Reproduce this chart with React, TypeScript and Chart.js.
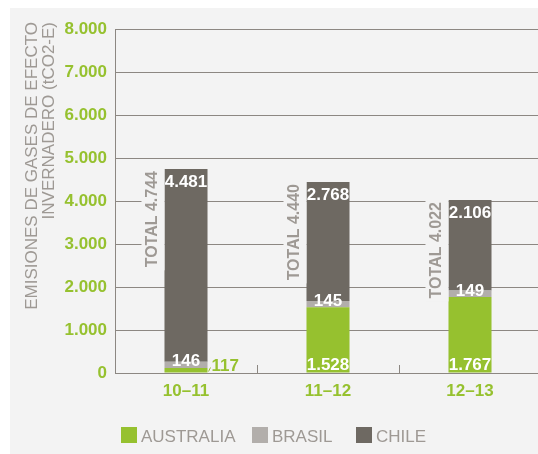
import React, { useEffect, useRef } from 'react';
import { Chart, registerables } from 'chart.js';

Chart.register(...registerables);

const categories = ['10–11', '11–12', '12–13'];
const seriesNames = ['AUSTRALIA', 'BRASIL', 'CHILE'];
const australia = [117, 1528, 1767];
const brasil = [146, 145, 149];
const chile = [4481, 2768, 2106];
const totals = [4744, 4440, 4022];
const yMax = 8000;
const yStep = 1000;
const axisTitle = ['EMISIONES DE GASES DE EFECTO', 'INVERNADERO (tCO2-E)'];

const FONT = '"Liberation Sans", Arial, Helvetica, sans-serif';
const PANEL = '#f3f3f3';
const GREEN = '#96c12f';
const BRASIL_C = '#b2aeab';
const CHILE_C = '#6e6962';
const GRID = '#8c8782';
const GRAYTEXT = '#9e9994';
const seriesColors = [GREEN, BRASIL_C, CHILE_C];

const fmt = (v: number) => String(Math.round(v)).replace(/\B(?=(\d{3})+(?!\d))/g, '.');

const customPlugin = {
  id: 'customDecor',
  afterDatasetsDraw(chart: any) {
    const ctx = chart.ctx as CanvasRenderingContext2D;
    const area = chart.chartArea;
    const xs = chart.scales.x;
    const mA = chart.getDatasetMeta(0);
    const mB = chart.getDatasetMeta(1);
    const mC = chart.getDatasetMeta(2);
    ctx.save();
    ctx.strokeStyle = GRID;
    ctx.lineWidth = 1;
    for (let i = 1; i < categories.length; i++) {
      const bx = Math.round((xs.getPixelForValue(i - 1) + xs.getPixelForValue(i)) / 2) + 0.5;
      ctx.beginPath();
      ctx.moveTo(bx, area.bottom);
      ctx.lineTo(bx, area.bottom - 8);
      ctx.stroke();
    }
    categories.forEach((_, i) => {
      const a: any = mA.data[i];
      const b: any = mB.data[i];
      const c: any = mC.data[i];
      const half = a.width / 2;
      const left = a.x - half;
      const right = a.x + half;
      ctx.font = `bold 17px ${FONT}`;
      ctx.textAlign = 'center';
      ctx.textBaseline = 'alphabetic';
      ctx.fillStyle = '#ffffff';
      ctx.fillText(fmt(chile[i]), c.x, c.y + 18);
      ctx.fillText(fmt(brasil[i]), b.x, b.base - 1.5);
      if (australia[i] > 500) {
        ctx.fillText(fmt(australia[i]), a.x, a.base - 3);
      } else {
        ctx.fillStyle = GREEN;
        ctx.textAlign = 'left';
        ctx.fillText(fmt(australia[i]), right + 4, a.base - 1.5);
        ctx.strokeStyle = GREEN;
        ctx.beginPath();
        ctx.moveTo(right + 1, a.base - 1);
        ctx.lineTo(right + 3, a.base - 5);
        ctx.stroke();
      }
      const label = 'TOTAL ' + fmt(totals[i]);
      ctx.font = `bold 16px ${FONT}`;
      const w = ctx.measureText(label).width;
      const tx = left - 13;
      const ty = c.y + 2;
      ctx.fillStyle = PANEL;
      ctx.fillRect(tx - 10, ty - 2, left - (tx - 10), w + 5);
      ctx.save();
      ctx.translate(tx, ty);
      ctx.rotate(-Math.PI / 2);
      ctx.textAlign = 'right';
      ctx.textBaseline = 'alphabetic';
      ctx.fillStyle = GRAYTEXT;
      ctx.fillText(label, 0, 6);
      ctx.restore();
    });
    ctx.restore();
  },
  afterDraw(chart: any) {
    const ctx = chart.ctx as CanvasRenderingContext2D;
    ctx.save();
    ctx.font = `17px ${FONT}`;
    ctx.fillStyle = GRAYTEXT;
    ctx.textAlign = 'right';
    ctx.textBaseline = 'alphabetic';
    axisTitle.forEach((line, k) => {
      ctx.save();
      ctx.translate(21 + k * 16.5, 14);
      ctx.rotate(-Math.PI / 2);
      ctx.fillText(line, 0, 6);
      ctx.restore();
    });
    const legendX = [111, 242, 346];
    seriesNames.forEach((n, k) => {
      ctx.fillStyle = seriesColors[k];
      ctx.fillRect(legendX[k], 419, 16, 16);
      ctx.fillStyle = GRAYTEXT;
      ctx.textAlign = 'left';
      ctx.fillText(n, legendX[k] + 20, 433.5);
    });
    ctx.restore();
  },
};

export default function App() {
  const ref = useRef<HTMLCanvasElement | null>(null);
  useEffect(() => {
    if (!ref.current) return;
    const chart = new Chart(ref.current, {
      type: 'bar',
      data: {
        labels: categories,
        datasets: [
          { label: seriesNames[0], data: australia, backgroundColor: GREEN, stack: 's' },
          { label: seriesNames[1], data: brasil, backgroundColor: BRASIL_C, stack: 's' },
          { label: seriesNames[2], data: chile, backgroundColor: CHILE_C, stack: 's' },
        ],
      },
      options: {
        responsive: false,
        animation: false,
        devicePixelRatio: 1,
        layout: { padding: { top: 21, left: 0, right: 0, bottom: 0 } },
        datasets: { bar: { categoryPercentage: 1, barPercentage: 0.303 } } as any,
        plugins: {
          legend: { display: false },
          tooltip: { enabled: false },
          title: { display: false },
        },
        scales: {
          x: {
            stacked: true,
            grid: { display: false, drawTicks: false },
            border: { display: true, color: GRID },
            ticks: { color: GREEN, font: { size: 17, weight: 'bold', family: FONT }, padding: 8 },
            afterFit: (s: any) => { s.height = 81; },
          },
          y: {
            stacked: true,
            min: 0,
            max: yMax,
            ticks: {
              stepSize: yStep,
              color: GREEN,
              font: { size: 17, weight: 'bold', family: FONT },
              padding: 8,
              callback: (v: any) => fmt(Number(v)),
            },
            grid: { color: GRID, drawTicks: false },
            border: { color: GRID },
            afterFit: (s: any) => { s.width = 105; },
          },
        },
      } as any,
      plugins: [customPlugin],
    });
    return () => chart.destroy();
  }, []);
  return (
    <div style={{ position: 'fixed', left: 10, top: 8, width: 528, height: 446, background: PANEL, overflow: 'hidden' }}>
      <canvas ref={ref} width={531} height={446} style={{ display: 'block' }} />
    </div>
  );
}
